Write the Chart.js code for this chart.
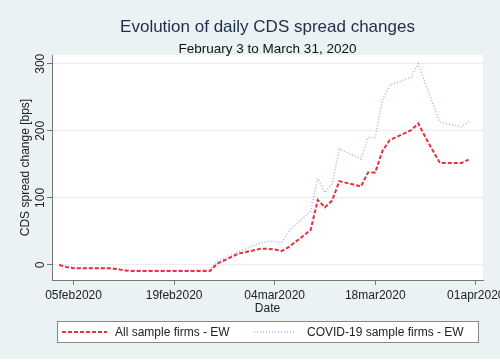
<!DOCTYPE html>
<html><head><meta charset="utf-8">
<script src="https://cdn.jsdelivr.net/npm/chart.js@4.4.1/dist/chart.umd.min.js"></script>
<style>html,body{margin:0;padding:0;background:#fff;}canvas{display:block;}</style>
</head><body>
<canvas id="c" width="500" height="364"></canvas>
<script>
// ---- data ----
const dates = [
  '2020-02-03','2020-02-04','2020-02-05','2020-02-06','2020-02-07',
  '2020-02-10','2020-02-11','2020-02-12','2020-02-13','2020-02-14',
  '2020-02-17','2020-02-18','2020-02-19','2020-02-20','2020-02-21',
  '2020-02-24','2020-02-25','2020-02-26','2020-02-27','2020-02-28',
  '2020-03-02','2020-03-03','2020-03-04','2020-03-05','2020-03-06',
  '2020-03-09','2020-03-10','2020-03-11','2020-03-12','2020-03-13',
  '2020-03-16','2020-03-17','2020-03-18','2020-03-19','2020-03-20',
  '2020-03-23','2020-03-24','2020-03-25','2020-03-26','2020-03-27',
  '2020-03-30','2020-03-31'
];
const allFirmsEW = [
  0, -3, -5, -5, -5,
  -5, -6, -8, -9, -9,
  -9, -9, -9, -9, -9,
  -9, 2, 7, 12, 17,
  24, 24, 23, 21, 27,
  52, 97, 86, 96, 125,
  117, 138, 138, 170, 186,
  201, 211, 190, 171, 152,
  152, 157
];
const covidFirmsEW = [
  0, -2, -4, -4, -4,
  -4, -5, -7, -8, -8,
  -8, -8, -8, -8, -8,
  -6, 5, 10, 15, 20,
  33, 35, 35, 33, 51,
  80, 129, 108, 121, 173,
  158, 190, 190, 246, 268,
  280, 300, 270, 241, 213,
  206, 214
];
const seriesNames = ['All sample firms - EW', 'COVID-19 sample firms - EW'];
const xTickDates = ['2020-02-05','2020-02-19','2020-03-04','2020-03-18','2020-04-01'];
const xTickLabels = ['05feb2020','19feb2020','04mar2020','18mar2020','01apr2020'];
const yTickValues = [0, 100, 200, 300];
const titleText = 'Evolution of daily CDS spread changes';
const subtitleText = 'February 3 to March 31, 2020';
const xAxisTitle = 'Date';
const yAxisTitle = 'CDS spread change [bps]';

// ---- helpers ----
const DAY = 864e5;
const ORIGIN = Date.parse('2020-02-01');
const toDay = s => (Date.parse(s) - ORIGIN) / DAY;
const FAM = '"Liberation Sans", Arial, sans-serif';
const TXT = '#222';
const AXC = '#777';

const pts = arr => dates.map((d, i) => ({x: toDay(d), y: arr[i]}));
const xTickDays = xTickDates.map(toDay);

const framePlugin = {
  id: 'frame',
  beforeDraw(chart) {
    const ctx = chart.ctx, a = chart.chartArea;
    ctx.save();
    ctx.fillStyle = '#eaf2f3';
    ctx.fillRect(0, 0, chart.width, 359);
    ctx.fillStyle = '#ffffff';
    ctx.fillRect(a.left, a.top, a.right - a.left, a.bottom - a.top);
    ctx.restore();
  },
  afterDraw(chart) {
    const ctx = chart.ctx, a = chart.chartArea;
    const cx = (a.left + a.right) / 2;
    ctx.save();
    ctx.textAlign = 'center';
    ctx.textBaseline = 'middle';
    ctx.fillStyle = '#1f2d4a';
    ctx.font = '17px ' + FAM;
    ctx.fillText(titleText, cx, 27);
    ctx.fillStyle = '#111';
    ctx.font = '13.5px ' + FAM;
    ctx.fillText(subtitleText, cx, 49);

    // legend box
    const lx = 57, ly = 321, lw = 422, lh = 22;
    ctx.fillStyle = '#fff';
    ctx.fillRect(lx, ly, lw, lh);
    ctx.strokeStyle = '#888';
    ctx.lineWidth = 1;
    ctx.strokeRect(lx + 0.5, ly + 0.5, lw - 1, lh - 1);
    const cy = ly + lh / 2;
    const items = [
      {x0: 62, x1: 107, tx: 115},
      {x0: 254, x1: 294, tx: 307}
    ];
    ctx.font = '12px ' + FAM;
    ctx.textAlign = 'left';
    chart.data.datasets.forEach((ds, i) => {
      const it = items[i];
      ctx.save();
      ctx.strokeStyle = ds.borderColor;
      ctx.lineWidth = ds.borderWidth;
      ctx.setLineDash(ds.borderDash);
      ctx.beginPath();
      ctx.moveTo(it.x0, cy);
      ctx.lineTo(it.x1, cy);
      ctx.stroke();
      ctx.restore();
      ctx.fillStyle = TXT;
      ctx.fillText(ds.label, it.tx, cy + 0.5);
    });
    ctx.restore();
  }
};

new Chart(document.getElementById('c'), {
  type: 'line',
  data: {
    datasets: [
      {
        label: seriesNames[0],
        data: pts(allFirmsEW),
        borderColor: '#e8303f',
        borderWidth: 2,
        borderDash: [4, 2],
        pointRadius: 0,
        tension: 0,
        fill: false
      },
      {
        label: seriesNames[1],
        data: pts(covidFirmsEW),
        borderColor: '#a9b1f0',
        borderWidth: 1.5,
        borderDash: [1, 2],
        pointRadius: 0,
        tension: 0,
        fill: false
      }
    ]
  },
  options: {
    responsive: false,
    animation: false,
    layout: {padding: {top: 55, left: 0, right: 17, bottom: 44}},
    plugins: {
      legend: {display: false},
      title: {display: false},
      tooltip: {enabled: false}
    },
    scales: {
      x: {
        type: 'linear',
        min: toDay('2020-02-02'),
        max: toDay('2020-04-02'),
        afterBuildTicks: s => { s.ticks = xTickDays.map(v => ({value: v})); },
        afterFit: s => { s.height = 40; s.paddingLeft = 0; s.paddingRight = 0; },
        ticks: {
          callback: v => xTickLabels[xTickDays.indexOf(v)],
          autoSkip: false, maxRotation: 0, minRotation: 0,
          padding: 3, color: TXT, font: {family: FAM, size: 12}
        },
        grid: {display: true, drawOnChartArea: false, drawTicks: true, tickLength: 5, tickColor: AXC},
        border: {display: true, color: AXC, width: 1},
        title: {display: true, text: xAxisTitle, color: TXT, font: {family: FAM, size: 12}, padding: {top: 0, bottom: 4}}
      },
      y: {
        type: 'linear',
        min: -22.4,
        max: 313,
        afterBuildTicks: s => { s.ticks = yTickValues.map(v => ({value: v})); },
        afterFit: s => { s.width = 52; s.paddingTop = 0; s.paddingBottom = 0; },
        ticks: {
          minRotation: 90, maxRotation: 90, crossAlign: 'center',
          padding: -3.5, color: TXT, font: {family: FAM, size: 12}
        },
        grid: {color: '#e8eef0', lineWidth: 1, drawTicks: true, tickLength: 5, tickColor: AXC},
        border: {display: true, color: AXC, width: 1},
        title: {display: true, text: yAxisTitle, color: TXT, font: {family: FAM, size: 12}, padding: {top: 18.5, bottom: 0}}
      }
    }
  },
  plugins: [framePlugin]
});
</script>
</body></html>
